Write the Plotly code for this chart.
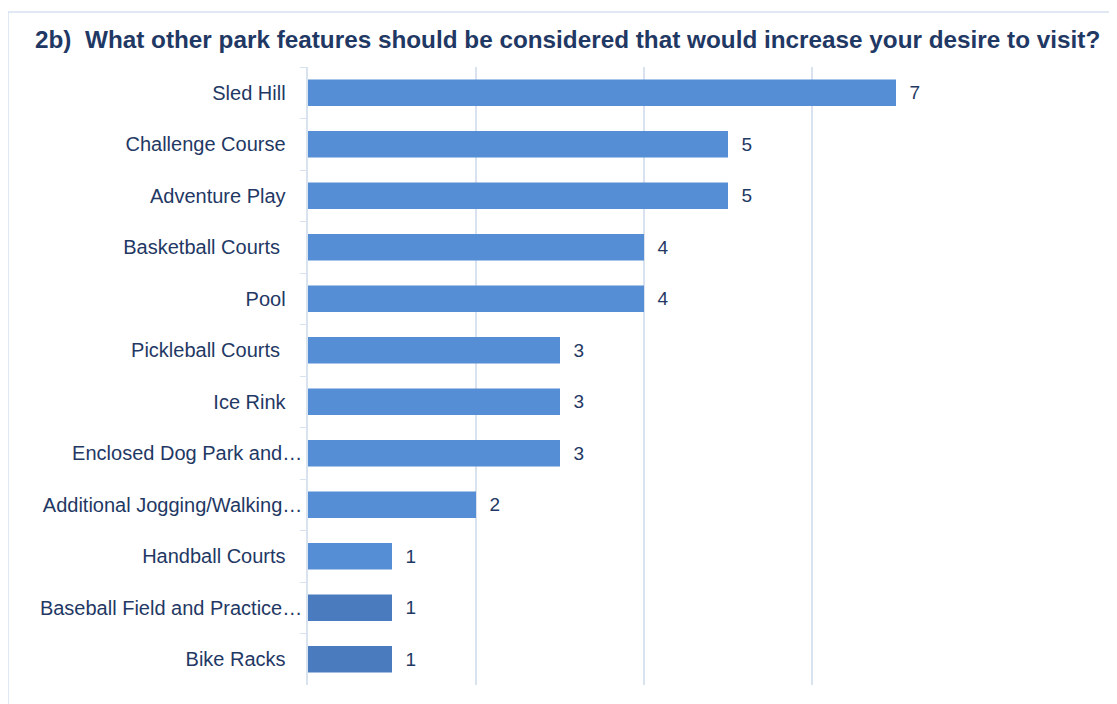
import plotly.graph_objects as go

NB = "\u00a0\u00a0\u00a0"
categories = ["Sled Hill", "Challenge Course", "Adventure Play", "Basketball Courts ",
              "Pool", "Pickleball Courts ", "Ice Rink", "Enclosed Dog Park and…",
              "Additional Jogging/Walking…", "Handball Courts", "Baseball Field and Practice…",
              "Bike Racks"]
values = [7, 5, 5, 4, 4, 3, 3, 3, 2, 1, 1, 1]
bar_colors = ["#558ED5"] * 10 + ["#4A7BBF", "#4A7BBF"]
title_text = "2b)  What other park features should be considered that would increase your desire to visit?"

TXT = "#1F3864"
GRID = "#D9E3F0"
FONT = "Liberation Sans"

# labels that are not truncated sit a little further from the axis (as in Excel)
display_labels = [c if c.endswith("…") else c + NB for c in categories]

fig = go.Figure(go.Bar(
    y=display_labels, x=values, orientation="h",
    marker=dict(color=bar_colors, line=dict(width=0)),
    text=values, texttemplate="  %{x}", textposition="outside",
    textfont=dict(size=19, color=TXT, family=FONT),
    cliponaxis=False, width=0.51,
))

W, H = 1109, 696  # page has an 8px body margin
L, T = 300, 59
fig.update_layout(
    width=W, height=H,
    margin=dict(l=L, r=W - L - 672, t=T, b=H - T - 618),
    paper_bgcolor="white", plot_bgcolor="white",
    font=dict(family=FONT, color=TXT, size=20),
    showlegend=False,
    title=dict(text="<b>" + title_text + "</b>", x=27/W, xanchor="left",
               xref="container", yref="container", y=1 - 31/H, yanchor="middle",
               font=dict(size=24.3, color=TXT, family=FONT)),
    xaxis=dict(range=[0, 8], dtick=2, showgrid=True, gridcolor=GRID, gridwidth=1.5,
               showticklabels=False, zeroline=False, showline=False, fixedrange=True),
    yaxis=dict(autorange="reversed", showline=True, linecolor=GRID, linewidth=1.5,
               ticks="outside", tickson="boundaries", ticklen=6, tickcolor=GRID,
               tickfont=dict(size=20, color=TXT, family=FONT),
               ticklabelstandoff=0, showgrid=False),
    shapes=[dict(type="rect", xref="paper", yref="paper",
                 x0=(0-L)/672, x1=(1130-L)/672, y0=(618-720)/618, y1=(T+618-4)/618,
                 line=dict(color="#D6E2F0", width=1.5), fillcolor="rgba(0,0,0,0)", layer="below")],
)

fig.write_html("out.html")
